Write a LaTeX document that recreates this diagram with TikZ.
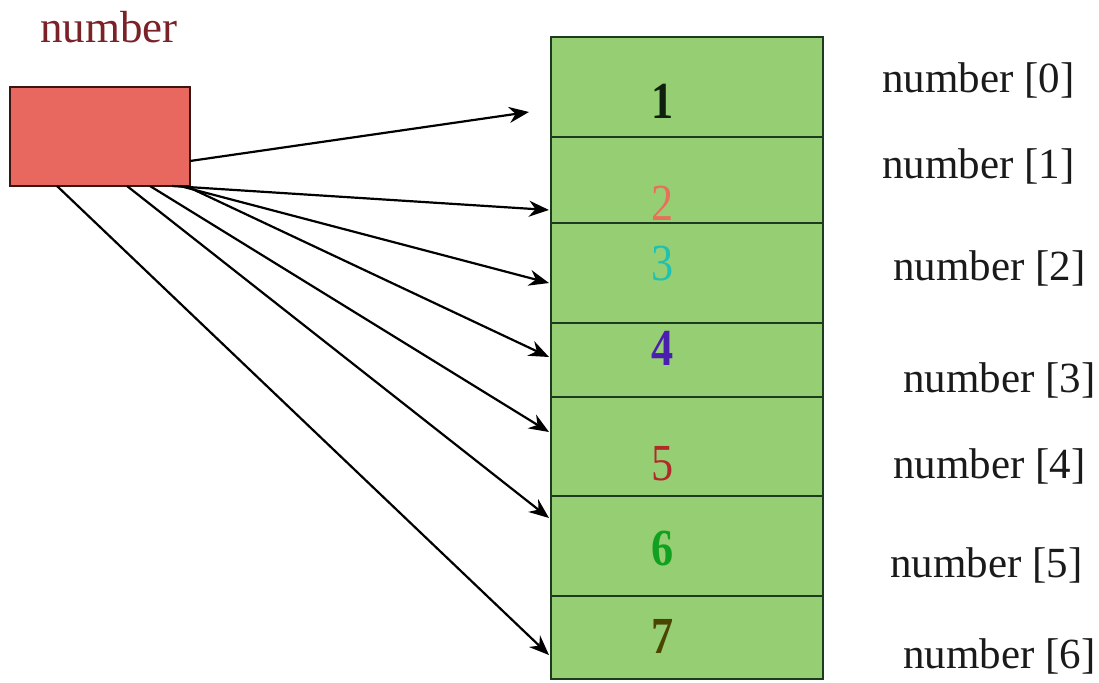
\documentclass[tikz,border=0pt]{standalone}
\usepackage{fontspec}
\setmainfont{Liberation Serif}
\usetikzlibrary{arrows.meta,calc}
\definecolor{boxred}{HTML}{E8685F}
\definecolor{boxedge}{HTML}{3A1512}
\definecolor{cellgreen}{HTML}{96CE74}
\definecolor{edgegreen}{HTML}{1E3A1E}
\definecolor{titlered}{HTML}{7A2228}
\definecolor{labelgray}{HTML}{1A1A1A}
\definecolor{dOne}{HTML}{102010}
\definecolor{dTwo}{HTML}{E8705A}
\definecolor{dThree}{HTML}{1FC2B0}
\definecolor{dFour}{HTML}{4A1FB0}
\definecolor{dFive}{HTML}{B02A2A}
\definecolor{dSix}{HTML}{12A020}
\definecolor{dSeven}{HTML}{4A4500}
\begin{document}
\begin{tikzpicture}[x=1pt,y=-1pt,
  cell/.style={draw=edgegreen, fill=cellgreen, line width=1.8pt, minimum width=272pt, inner sep=0pt, outer sep=0pt},
  digit/.style={anchor=base, inner sep=0pt, font=\fontsize{52}{60}\selectfont},
  bdigit/.style={digit, font=\fontsize{52}{60}\selectfont\bfseries},
  idx/.style={anchor=base west, inner sep=0pt, font=\fontsize{43}{50}\selectfont, text=labelgray},
  ptr/.style={draw=black, line width=2.2pt, -{Stealth[length=20pt,width=16pt]}}]
\useasboundingbox (0,0) rectangle (1099,682);

% source box and its name
\node[draw=boxedge, fill=boxred, line width=1.8pt, minimum width=180pt, minimum height=99pt, inner sep=0pt, outer sep=0pt] (src) at (100,136.5) {};
\node[anchor=base west, inner sep=0pt, font=\fontsize{45}{54}\selectfont, text=titlered] (title) at (40,43) {number};

% array cells
\node[cell, minimum height=100pt] (c0) at (687,87) {};
\node[cell, minimum height=86pt] (c1) at (687,180) {};
\node[cell, minimum height=100pt] (c2) at (687,273) {};
\node[cell, minimum height=74pt] (c3) at (687,360) {};
\node[cell, minimum height=99pt] (c4) at (687,446.5) {};
\node[cell, minimum height=100pt] (c5) at (687,546) {};
\node[cell, minimum height=83pt] (c6) at (687,637.5) {};

% values
\node[bdigit, text=dOne] (v1) at (663,118) {\scalebox{0.85}[1]{1}};
\node[digit, text=dTwo] (v2) at (663,220) {\scalebox{0.85}[1]{2}};
\node[digit, text=dThree] (v3) at (663,280) {\scalebox{0.85}[1]{3}};
\node[bdigit, text=dFour] (v4) at (663,365) {\scalebox{0.85}[1]{4}};
\node[digit, text=dFive] (v5) at (663,480) {\scalebox{0.85}[1]{5}};
\node[bdigit, text=dSix] (v6) at (663,565) {\scalebox{0.85}[1]{6}};
\node[bdigit, text=dSeven] (v7) at (663,653) {\scalebox{0.85}[1]{7}};

% index labels
\node[idx] (l0) at (882,93) {number [0]};
\node[idx] (l1) at (882,178) {number [1]};
\node[idx] (l2) at (893,280) {number [2]};
\node[idx] (l3) at (903,392) {number [3]};
\node[idx] (l4) at (893,478) {number [4]};
\node[idx] (l5) at (890,577) {number [5]};
\node[idx] (l6) at (903,668) {number [6]};

% arrow ends
\coordinate (t1) at (529,112);
\coordinate (t2) at (549,210);
\coordinate (t3) at (549,283);
\coordinate (t4) at (549,357);
\coordinate (t5) at (549,432);
\coordinate (t6) at (549,518);
\coordinate (t7) at (549,655);

% pointers
\draw[ptr] ($(src.south east)+(0,-25)$) -- (t1);
\draw[ptr] ($(src.south west)+(162,0)$) -- (t2);
\draw[ptr] ($(src.south west)+(170,0)$) -- (t3);
\draw[ptr] ($(src.south west)+(176,0)$) -- (t4);
\draw[ptr] ($(src.south west)+(140,0)$) -- (t5);
\draw[ptr] ($(src.south west)+(117,0)$) -- (t6);
\draw[ptr] ($(src.south west)+(47,0)$) -- (t7);
\end{tikzpicture}
\end{document}
